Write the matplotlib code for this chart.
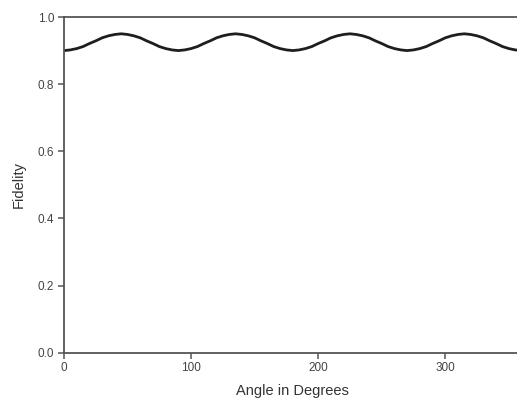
import numpy as np
import matplotlib.pyplot as plt

# angle in degrees, read every 5 deg
angle = [i * 5 for i in range(73)]
fidelity = [
    0.900, 0.902, 0.906, 0.912, 0.921, 0.929, 0.938, 0.944, 0.948,
    0.950, 0.948, 0.944, 0.938, 0.929, 0.921, 0.912, 0.906, 0.902,
    0.900, 0.902, 0.906, 0.912, 0.921, 0.929, 0.938, 0.944, 0.948,
    0.950, 0.948, 0.944, 0.938, 0.929, 0.921, 0.912, 0.906, 0.902,
    0.900, 0.902, 0.906, 0.912, 0.921, 0.929, 0.938, 0.944, 0.948,
    0.950, 0.948, 0.944, 0.938, 0.929, 0.921, 0.912, 0.906, 0.902,
    0.900, 0.902, 0.906, 0.912, 0.921, 0.929, 0.938, 0.944, 0.948,
    0.950, 0.948, 0.944, 0.938, 0.929, 0.921, 0.912, 0.906, 0.902,
    0.900,
]
xticks = [0, 100, 200, 300]
yticks = [0.0, 0.2, 0.4, 0.6, 0.8, 1.0]

plt.rcParams['font.family'] = ['Liberation Sans', 'DejaVu Sans']
fig = plt.figure(figsize=(5.17, 4.09), dpi=100)
ax = fig.add_axes([0.1238, 0.1376, 0.885, 0.8208])

ax.plot(angle, fidelity, color='#1e1e1e', lw=2.0)
ax.set_xlim(0, 360)
ax.set_ylim(0, 1.0)
ax.set_xticks(xticks)
ax.set_yticks(yticks)
ax.set_yticklabels([f'{v:.1f}' for v in yticks])

for s in ax.spines.values():
    s.set_color('#555555')
    s.set_linewidth(1.3)
ax.tick_params(direction='out', length=4, width=1.1, color='#555555',
               labelsize=8.5, labelcolor='#444444', pad=3)
ax.set_xlabel('Angle in Degrees', fontsize=10.5, color='#333333', labelpad=7)
ax.set_ylabel('Fidelity', fontsize=10.5, color='#333333', labelpad=9)

fig.savefig('out.png', dpi=100)
